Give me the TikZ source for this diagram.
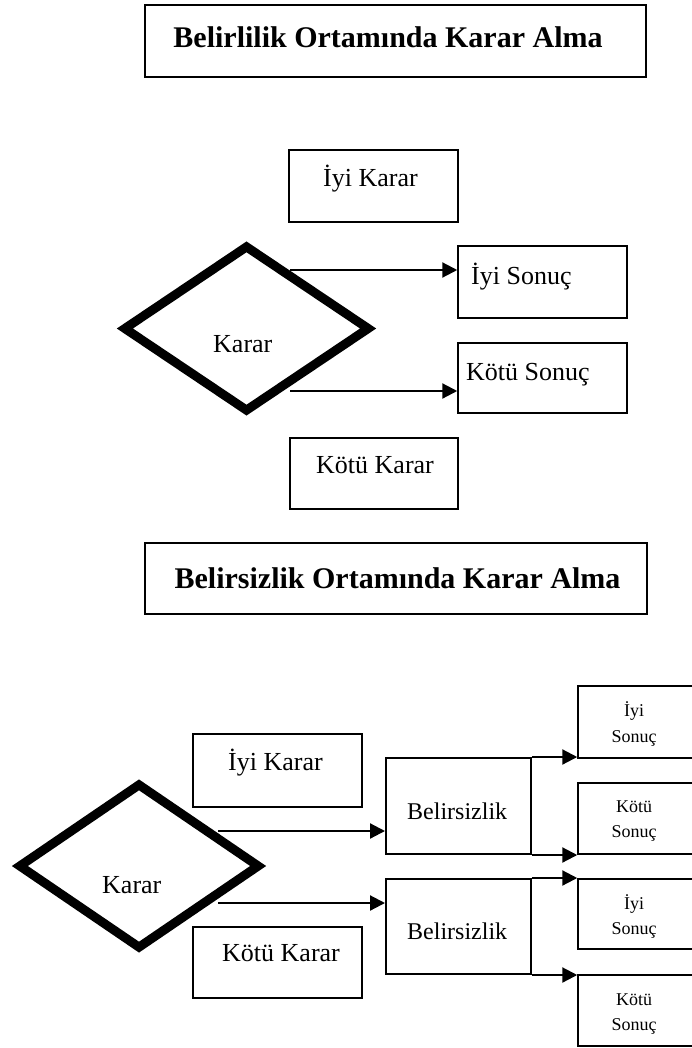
\documentclass[tikz,border=0pt]{standalone}
\usepackage{fontspec}
\setmainfont{Liberation Serif}
\usetikzlibrary{shapes.geometric,arrows.meta}

\begin{document}
\begin{tikzpicture}[x=1pt,y=-1pt,
  frame/.style={draw, rectangle, line width=1.5pt, inner sep=0pt},
  titlebox/.style={frame, line width=2pt},
  belbox/.style={frame, line width=2pt},
  dia/.style={draw, diamond, line width=9pt, line join=miter, inner sep=0pt},
  txt/.style={anchor=base west, inner sep=0pt, font=\fontsize{26}{30}\selectfont},
  ttl/.style={anchor=base, inner sep=0pt, font=\fontsize{30}{34}\selectfont\bfseries},
  beltxt/.style={anchor=base west, inner sep=0pt, font=\fontsize{24}{28}\selectfont},
  small/.style={anchor=base, inner sep=0pt, font=\fontsize{18}{22}\selectfont},
  arr/.style={line width=2.2pt, -{Triangle[length=15pt,width=15pt]}}]
\useasboundingbox (0,0) rectangle (692,1048);
\clip (0,0) rectangle (692,1048);

% ---------- certainty: title ----------
\node[titlebox, minimum width=501pt, minimum height=72pt] (t1) at (395.5,41) {};
\node[ttl] (t1txt) at (388,48) {Belirlilik Ortamında Karar Alma};

% ---------- certainty: decision ----------
\node[frame, minimum width=169pt, minimum height=72pt] (ik1) at (373.5,186) {};
\node[txt] (ik1txt) at (323,187) {İyi Karar};
\node[frame, minimum width=168pt, minimum height=71pt] (kk1) at (374,473.5) {};
\node[txt] (kk1txt) at (316,473) {Kötü Karar};

\node[dia, minimum width=247pt, minimum height=167pt] (d1) at (246.5,328.5) {};
\node[txt] (d1txt) at (213,352) {Karar};

\node[frame, minimum width=169pt, minimum height=72pt] (is1) at (542.5,282) {};
\node[txt] (is1txt) at (471,284) {İyi Sonuç};
\node[frame, minimum width=169pt, minimum height=70pt] (ks1) at (542.5,378) {};
\node[txt] (ks1txt) at (466,380) {Kötü Sonuç};

\coordinate (d1a) at (290,270);
\coordinate (d1b) at (290,391);
\draw[arr] (d1a) -- (d1a -| is1.west);
\draw[arr] (d1b) -- (d1b -| ks1.west);

% ---------- uncertainty: title ----------
\node[titlebox, minimum width=502pt, minimum height=71pt] (t2) at (396,578.5) {};
\node[ttl] (t2txt) at (397.5,588) {Belirsizlik Ortamında Karar Alma};

% ---------- uncertainty: decision ----------
\node[frame, minimum width=169pt, minimum height=73pt] (ik2) at (277.5,770.5) {};
\node[txt] (ik2txt) at (228,770) {İyi Karar};
\node[frame, minimum width=169pt, minimum height=71pt] (kk2) at (277.5,962.5) {};
\node[txt] (kk2txt) at (222,961) {Kötü Karar};

\node[dia, minimum width=242pt, minimum height=166pt] (d2) at (139,866) {};
\node[txt] (d2txt) at (102,893) {Karar};

\node[belbox, minimum width=145pt, minimum height=96pt] (b1) at (458.5,806) {};
\node[beltxt] (b1txt) at (407,819) {Belirsizlik};
\node[belbox, minimum width=145pt, minimum height=95pt] (b2) at (458.5,926.5) {};
\node[beltxt] (b2txt) at (407,939) {Belirsizlik};

\coordinate (d2a) at (218,831);
\coordinate (d2b) at (218,903);
\draw[arr] (d2a) -- (d2a -| b1.west);
\draw[arr] (d2b) -- (d2b -| b2.west);

% ---------- uncertainty: outcomes ----------
\node[frame, minimum width=116pt, minimum height=72pt] (s1) at (636,722) {};
\node[small] (s1a) at (634,716) {İyi};
\node[small] (s1b) at (634,742) {Sonuç};
\node[frame, minimum width=116pt, minimum height=71pt] (s2) at (636,818.5) {};
\node[small] (s2a) at (634,812) {Kötü};
\node[small] (s2b) at (634,837) {Sonuç};
\node[frame, minimum width=116pt, minimum height=70pt] (s3) at (636,914) {};
\node[small] (s3a) at (634,909) {İyi};
\node[small] (s3b) at (634,934) {Sonuç};
\node[frame, minimum width=116pt, minimum height=71pt] (s4) at (636,1010.5) {};
\node[small] (s4a) at (634,1005) {Kötü};
\node[small] (s4b) at (634,1030) {Sonuç};

\draw[arr] (b1.north east) -- (b1.north east -| s1.west);
\draw[arr] (b1.south east) -- (b1.south east -| s2.west);
\draw[arr] (b2.north east) -- (b2.north east -| s3.west);
\draw[arr] (b2.south east) -- (b2.south east -| s4.west);
\end{tikzpicture}
\end{document}
